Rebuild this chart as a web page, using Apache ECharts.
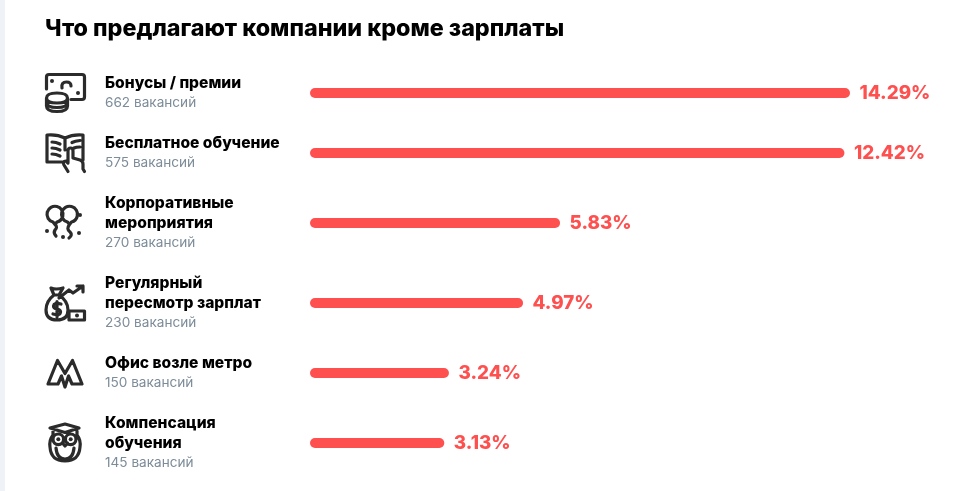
<!DOCTYPE html>
<html style="height: 100%">
<head>
<meta charset="utf-8">
<style>
  html, body { margin: 0; height: 100%; background: #fff; }
  #strip { position: absolute; left: 0; top: 0; width: 5px; height: 100%; background: #eff3f7; }
  #chart { position: absolute; left: 0; top: 0; width: 966px; height: 491px; }
</style>
</head>
<body>
<div id="strip"></div>
<div id="chart"></div>
<script src="https://cdn.jsdelivr.net/npm/echarts@6/dist/echarts.min.js"></script>
<script>
var titleText = 'Что предлагают компании кроме зарплаты';
var categories = ['Бонусы / премии', 'Бесплатное обучение', 'Корпоративные\nмероприятия', 'Регулярный\nпересмотр зарплат', 'Офис возле метро', 'Компенсация\nобучения'];
var vacancies = [662, 575, 270, 230, 150, 145];
var percents = ['14.29%', '12.42%', '5.83%', '4.97%', '3.24%', '3.13%'];
// bar lengths: they follow vacancies, the first bar is cut short in the original
var barLengths = [583, 577, 270, 230, 150, 145];

// row layout
var rowCenters = [93, 153, 223, 303, 373, 443];
var axisMax = 583;
var ink = '#2b2b2b';
var red = '#ff5050';

// icons, drawn by hand, [left, top, path, dots]
var icons = [
  [45, 73, 'M1.500 16V4Q1.500 1.500 4 1.500H37Q39.500 1.500 39.500 4V24Q39.500 26.500 37 26.500H26M17 15Q16 9 21.500 9Q26 9 26 13M1.500 25Q1.500 20 12 20Q22.500 20 22.500 25Q22.500 30 12 30Q1.500 30 1.500 25ZM1.500 25V33Q1.500 38.500 12 38.500Q22.500 38.500 22.500 33V25M1.500 29.500Q1.500 34.500 12 34.500Q22.500 34.500 22.500 29.500',
    [[7, 8], [33, 20]]],
  [45, 133, 'M20 5Q12 1 2 2V29H17M20 5Q28 1 38 2V27M20 5V17M7 9Q11 9 15 11M7 15Q11 15 15 17M7 21Q11 21 15 23M27 9.500Q30 8 35 7.500M29 15Q31 14 35 14M23 38.500L19 32Q17 28 21 28L23 30V18Q23 15 25.500 15Q28 15 28 18V25L35 27Q38 28 38 31V36L39.500 38.500',
    []],
  [45, 205, 'M8 17A8 8 0 1 1 12 17L10 19.500ZM10 19.500Q13 22 10 25Q8 28 11 31M22.500 17A8 8 0 1 1 26.500 17L24.500 19.500ZM24.500 19.500Q21 24 25 27Q28 30 24 33',
    [[35, 10], [2, 26], [34, 28], [18, 32]]],
  [45, 285, 'M6 3Q11 5 18 3L14 10Q23 16 23 25Q23 35 12 35Q1 35 1 25Q1 16 9 10ZM9 10H14M14 13L24 5L28 8L38 1M32 1H38V7M16 19Q9 17 8.500 21Q8.500 23.500 12 24Q16 25 15.500 27.500Q15 31 8 29M12 16.500V32M24 26H39.500V35H24Z',
    [[32, 30.5]]],
  [46, 358, 'M2 26L11.500 2.500L19 15.500L26.500 2.500L36 26H26L22.500 18L19 29L15.500 18L12 26Z',
    []],
  [48, 423, 'M2 5L17 1L31 5L17 9.500ZM5 8V12Q1 17 2 24Q3 38 17 38Q31 38 32 24Q33 17 29 12V8M8 25Q9 36 17 36Q25 36 26 25M14.500 20L17 23L19.500 20M5 16.300A5.300 5.300 0 1 0 15.600 16.300A5.300 5.300 0 1 0 5 16.300ZM17.400 16.300A5.300 5.300 0 1 0 28 16.300A5.300 5.300 0 1 0 17.400 16.300Z',
    [[10.3, 16.3], [22.7, 16.3]]]
];

// graphic component has no svg path type, register each icon as a shape
icons.forEach(function (ic, i) {
  echarts.graphic.registerShape('icon' + i, echarts.graphic.extendPath(ic[2]));
});

var dom = document.getElementById('chart');
var myChart = echarts.init(dom);

var grids = [], xAxes = [], yAxes = [], series = [];
categories.forEach(function (name, i) {
  grids.push({ left: 310, width: 540, top: rowCenters[i] - 20, height: 40 });
  xAxes.push({ gridIndex: i, type: 'value', min: 0, max: axisMax, show: false });
  yAxes.push({
    gridIndex: i,
    type: 'category',
    data: [name],
    axisLine: { show: false },
    axisTick: { show: false },
    axisLabel: {
      margin: 205,
      align: 'left',
      formatter: function (v) {
        var lines = v.split('\n').map(function (l) { return '{n|' + l + '}'; });
        lines.push('{s|' + vacancies[i] + ' вакансий}');
        return lines.join('\n');
      },
      rich: {
        n: { fontFamily: 'Inter', fontWeight: 800, fontSize: 15.6, lineHeight: 20, color: '#000' },
        s: { fontFamily: 'Inter', fontSize: 13.6, lineHeight: 20, color: '#7c8c99' }
      }
    }
  });
  series.push({
    type: 'bar',
    xAxisIndex: i,
    yAxisIndex: i,
    data: [barLengths[i]],
    barWidth: 10,
    itemStyle: { color: red, borderRadius: 5 },
    label: {
      show: true,
      position: 'right',
      distance: 9.5,
      formatter: percents[i],
      fontFamily: 'Inter',
      fontWeight: 800,
      fontSize: 18.8,
      color: red
    },
    silent: true
  });
});

var graphics = [];
icons.forEach(function (ic, i) {
  var children = [{
    type: 'icon' + i,
    style: { fill: null, stroke: ink, lineWidth: 3.2, lineCap: 'round', lineJoin: 'round' }
  }];
  ic[3].forEach(function (d) {
    children.push({ type: 'circle', shape: { cx: d[0], cy: d[1], r: 2 }, style: { fill: ink } });
  });
  graphics.push({ type: 'group', x: ic[0], y: ic[1], children: children });
});

var option = {
  animation: false,
  title: {
    text: titleText,
    left: 45,
    top: 17,
    padding: 0,
    textStyle: { fontFamily: 'Inter', fontWeight: 800, fontSize: 23.3, color: '#000' }
  },
  grid: grids,
  xAxis: xAxes,
  yAxis: yAxes,
  series: series,
  graphic: graphics
};
myChart.setOption(option, true);
</script>
</body>
</html>
